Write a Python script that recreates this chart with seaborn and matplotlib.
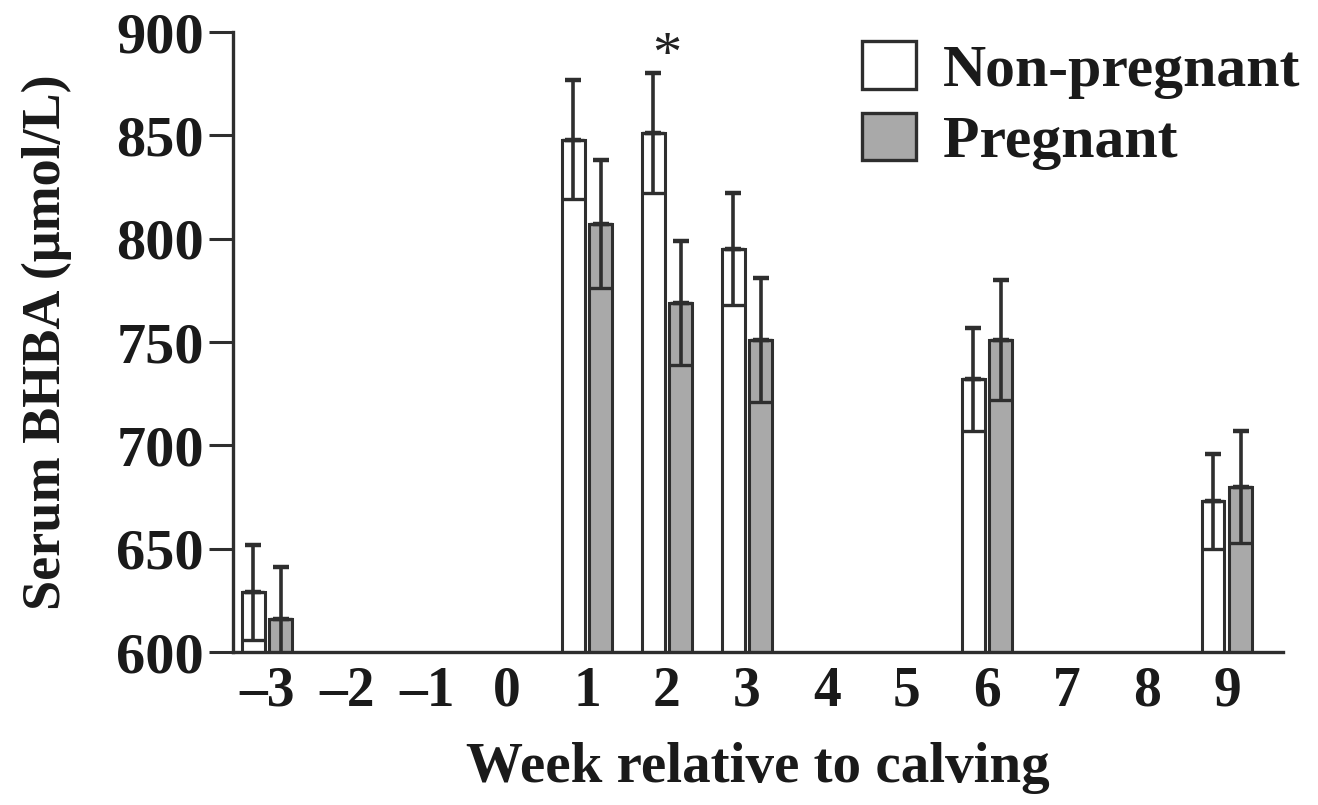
import numpy as np
import pandas as pd
import matplotlib
matplotlib.use("Agg")
import matplotlib.pyplot as plt
import seaborn as sns

# ---- data ----
week_order = ["-3", "-2", "-1", "0", "1", "2", "3", "4", "5", "6", "7", "8", "9"]
week_labels = ["\u20133", "\u20132", "\u20131", "0", "1", "2", "3", "4", "5", "6", "7", "8", "9"]
data_weeks = ["-3", "1", "2", "3", "6", "9"]
nonpreg_mean = [629, 848, 851, 795, 732, 673]
nonpreg_se = [23, 29, 29, 27, 25, 23]
preg_mean = [616, 807, 769, 751, 751, 680]
preg_se = [25, 31, 30, 30, 29, 27]
groups = ["Non-pregnant", "Pregnant"]
star_week = "2"
star_value = 888

df = pd.concat([
    pd.DataFrame({"week": data_weeks, "group": groups[0], "value": nonpreg_mean}),
    pd.DataFrame({"week": data_weeks, "group": groups[1], "value": preg_mean}),
], ignore_index=True)
se_lookup = {groups[0]: dict(zip(data_weeks, nonpreg_se)),
             groups[1]: dict(zip(data_weeks, preg_se))}

sns.set_theme(style="white")
plt.rcParams["font.family"] = ["Liberation Serif", "DejaVu Serif"]
plt.rcParams["font.weight"] = "bold"

edge = "#2e2e2e"
fig = plt.figure(figsize=(13.18, 8.05), dpi=100)
ax = fig.add_axes([0.1768, 0.19, 0.7966, 0.7702])

sns.barplot(data=df, x="week", y="value", hue="group", order=week_order,
            hue_order=groups, palette={groups[0]: "white", groups[1]: "#a9a9a9"},
            edgecolor=edge, linewidth=2.2, width=0.68, gap=0.18,
            errorbar=None, ax=ax, legend=True)

for cont, g in zip(ax.containers, groups):
    for bar in cont:
        h = bar.get_height()
        if not np.isfinite(h):
            continue
        cx = bar.get_x() + bar.get_width() / 2
        wk = week_order[int(round(cx))]
        se = se_lookup[g][wk]
        ax.errorbar([cx], [h], yerr=[[0], [se]], fmt="none", ecolor=edge,
                    elinewidth=2.6, capsize=6, capthick=3.2, zorder=3)
        ax.errorbar([cx], [h], yerr=[[se], [0]], fmt="none", ecolor=edge,
                    elinewidth=2.6, capsize=7.8, capthick=2.4, zorder=3)

ax.text(week_order.index(star_week), star_value, "*", ha="center", va="center",
        fontsize=42, fontweight="normal", color="#222222")

ax.set_ylim(600, 900)
ax.set_xlim(-0.425, 12.7)
ax.set_yticks(np.arange(600, 901, 50))
ax.set_xticks(range(len(week_order)))
ax.set_xticklabels(week_labels)
for s in ["top", "right"]:
    ax.spines[s].set_visible(False)
for s in ["left", "bottom"]:
    ax.spines[s].set_color(edge)
    ax.spines[s].set_linewidth(2.4)
ax.tick_params(axis="y", direction="out", length=17, width=2.2, color=edge,
               pad=4, labelsize=42, left=True)
ax.tick_params(axis="x", length=0, pad=10, labelsize=40)
for t in ax.get_xticklabels() + ax.get_yticklabels():
    t.set_fontweight("bold")
    t.set_color("#1a1a1a")

ax.set_xlabel("Week relative to calving", fontsize=41, fontweight="bold",
              color="#1a1a1a", labelpad=17)
ax.set_ylabel("Serum BHBA (\u03bcmol/L)", fontsize=39, fontweight="bold",
              color="#1a1a1a", labelpad=32)

leg = ax.legend(loc="upper left", bbox_to_anchor=(0.599, 0.985), frameon=False,
                fontsize=43, handlelength=0.9, handleheight=0.85,
                handletextpad=0.45, labelspacing=0.23, borderaxespad=0,
                borderpad=0)
for t in leg.get_texts():
    t.set_fontweight("bold")
    t.set_color("#1a1a1a")
for h in leg.legend_handles:
    h.set_edgecolor(edge)
    h.set_linewidth(2.4)

fig.savefig("out.png", dpi=100)
